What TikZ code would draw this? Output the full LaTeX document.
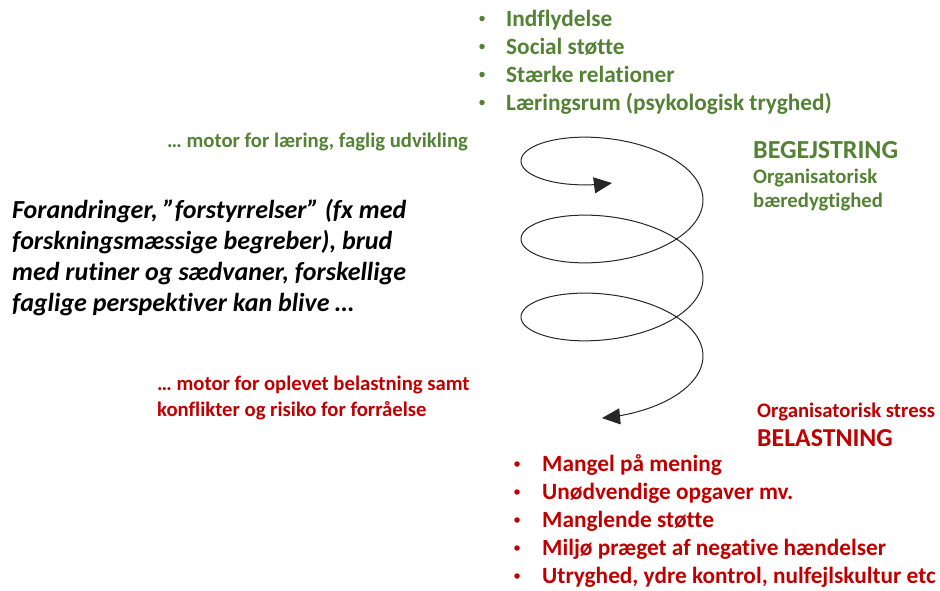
\documentclass[tikz,border=0pt]{standalone}
\usepackage{fontspec}
\setmainfont{Carlito}[Ligatures=NoCommon]
\usetikzlibrary{arrows.meta}
\definecolor{grn}{RGB}{84,130,53}
\definecolor{rd}{RGB}{192,0,0}
\begin{document}
\begin{tikzpicture}[x=1pt,y=-1pt,
  base/.style={anchor=base west, inner sep=0pt},
  gbig/.style={base, text=grn, font=\bfseries\fontsize{23.3}{23.3}\selectfont},
  ghead/.style={base, text=grn, font=\bfseries\fontsize{26}{26}\selectfont},
  gsmall/.style={base, text=grn, font=\bfseries\fontsize{20.7}{20.7}\selectfont},
  rbig/.style={base, text=rd, font=\bfseries\fontsize{23.3}{23.3}\selectfont},
  rhead/.style={base, text=rd, font=\bfseries\fontsize{25.8}{25.8}\selectfont},
  rsmall/.style={base, text=rd, font=\bfseries\fontsize{20.7}{20.7}\selectfont},
  ktext/.style={base, text=black, font=\bfseries\itshape\fontsize{26}{26}\selectfont},
  dot/.style={circle, inner sep=0pt, minimum size=5.5pt, fill=#1},
  spiral/.style={line width=1pt, draw=black!85,
    {Triangle[length=18pt,width=16pt]}-{Triangle[length=18pt,width=16pt]}}]
\useasboundingbox (0,0) rectangle (940,590);
% green list
\foreach \t [count=\i] in {Indflydelse, Social støtte, Stærke relationer, Læringsrum (psykologisk tryghed)}{
  \node[dot=grn] (gb\i) at (482,{18.5+28*(\i-1)}) {};
  \node[gbig] (g\i) at (506,{26+28*(\i-1)}) {\t};
}
% green motor
\node[gsmall] (gm) at (167,147) {… motor for læring, faglig udvikling};
% black text
\node[ktext] (k1) at (12,218) {Forandringer, ”forstyrrelser” (fx med};
\node[ktext] (k2) at (12,249) {forskningsmæssige begreber), brud};
\node[ktext] (k3) at (12,280) {med rutiner og sædvaner, forskellige};
\node[ktext] (k4) at (12,311) {faglige perspektiver kan blive …};
% red motor
\node[rsmall] (rm1) at (157,390) {… motor for oplevet belastning samt};
\node[rsmall] (rm2) at (157,416) {konflikter og risiko for forråelse};
% right labels
\node[ghead] (beg) at (753,158) {BEGEJSTRING};
\node[gsmall] (org1) at (753,183) {Organisatorisk};
\node[gsmall] (org2) at (753,207) {bæredygtighed};
\node[rsmall] (ost) at (757,417) {Organisatorisk stress};
\node[rhead] (bel) at (757,446) {BELASTNING};
% red list
\foreach \t [count=\i] in {Mangel på mening, Unødvendige opgaver mv., Manglende støtte, Miljø præget af negative hændelser, {Utryghed, ydre kontrol, nulfejlskultur etc}}{
  \node[dot=rd] (rb\i) at (517,{464+28*(\i-1)}) {};
  \node[rbig] (r\i) at (542,{471+28*(\i-1)}) {\t};
}
% spiral
\draw[spiral] plot[domain=-4.712:14.25, samples=400, smooth]
  ({612+91*cos(\x r)},{200+41.5*sin(\x r)+12.41*\x});
\end{tikzpicture}
\end{document}
